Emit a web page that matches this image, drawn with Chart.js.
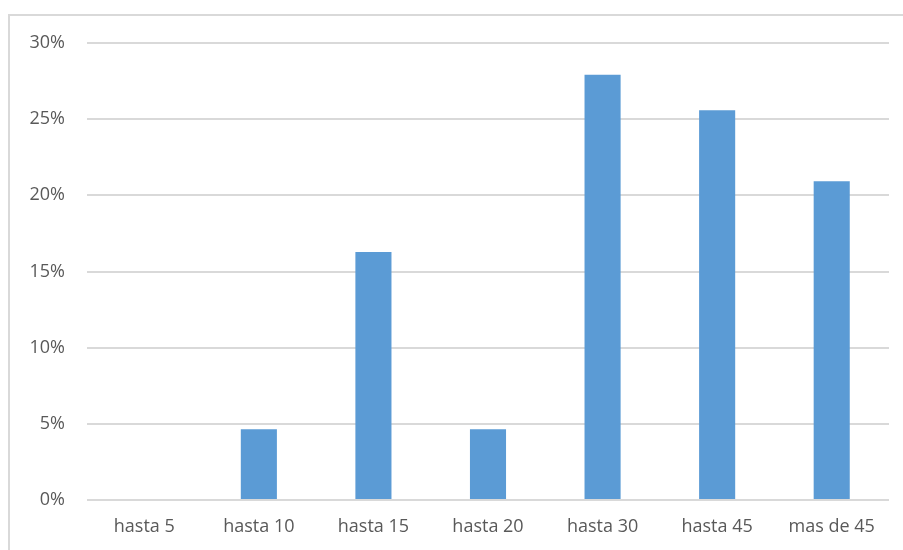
<!DOCTYPE html>
<html>
<head>
<meta charset="utf-8">
<script src="https://cdn.jsdelivr.net/npm/chart.js@4/dist/chart.umd.min.js"></script>
<style>
  html, body { margin: 0; padding: 0; background: #fff; }
  #wrap { width: 903px; height: 550px; position: relative; }
</style>
</head>
<body>
<div id="wrap"><canvas id="myChart" width="903" height="550"></canvas></div>
<script>
const categories = ['hasta 5', 'hasta 10', 'hasta 15', 'hasta 20', 'hasta 30', 'hasta 45', 'mas de 45'];
const shares = [0, 0.0465, 0.1628, 0.0465, 0.2791, 0.2558, 0.2093];
const yTicks = [0, 0.05, 0.10, 0.15, 0.20, 0.25, 0.30];

// light frame around the chart, as in the original export
const frame = {
  id: 'frame',
  beforeDraw(chart) {
    const c = chart.ctx;
    c.save();
    c.strokeStyle = '#d9d9d9';
    c.lineWidth = 2;
    c.strokeRect(9, 15, 1000, 1000);
    c.restore();
  }
};

const ctx = document.getElementById('myChart').getContext('2d');

const bars = new Chart(ctx, {
  type: 'bar',
  data: {
    labels: categories,
    datasets: [{
      data: shares,
      backgroundColor: '#5b9bd5',
      borderWidth: 0,
      barPercentage: 0.315,
      categoryPercentage: 1
    }]
  },
  plugins: [frame],
  options: {
    responsive: false,
    animation: false,
    layout: { padding: { top: 43, right: 14, left: 0, bottom: 0 } },
    plugins: {
      legend: { display: false },
      tooltip: { enabled: false }
    },
    scales: {
      x: {
        grid: { display: false, drawTicks: false },
        border: { display: false },
        ticks: {
          color: '#595959',
          padding: 16,
          font: { family: 'Open Sans', size: 18 }
        },
        afterFit(scale) { scale.height = 50; }
      },
      y: {
        min: 0,
        max: 0.3,
        afterBuildTicks(scale) { scale.ticks = yTicks.map(v => ({ value: v })); },
        grid: { color: '#d9d9d9', lineWidth: 2, drawTicks: false },
        border: { display: false },
        ticks: {
          color: '#595959',
          padding: 22,
          font: { family: 'Open Sans', size: 18 },
          callback: v => Math.round(v * 100) + '%'
        },
        afterFit(scale) { scale.width = 87; }
      }
    }
  }
});
</script>
</body>
</html>
